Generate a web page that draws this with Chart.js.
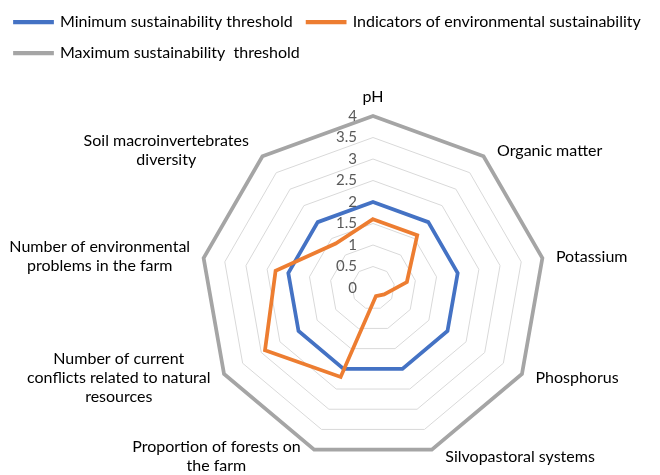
<!DOCTYPE html>
<html>
<head>
<meta charset="utf-8">
<script src="https://cdn.jsdelivr.net/npm/chart.js@4"></script>
<style>
  html, body { margin: 0; padding: 0; background: #fff; }
  #wrap { width: 660px; height: 475px; }
</style>
</head>
<body>
<div id="wrap"><canvas id="chart"></canvas></div>
<script>
// axis labels (multi-line as in the original)
const categories = [
  "pH",
  "Organic matter",
  "Potassium",
  "Phosphorus",
  "Silvopastoral systems",
  ["Proportion of forests on", "the farm"],
  ["Number of current", "conflicts related to natural", "resources"],
  ["Number of environmental", "problems in the farm"],
  ["Soil macroinvertebrates", "diversity"],
];

const minThreshold = [2, 2, 2, 2, 2, 2, 2, 2, 2];
const indicators = [1.6, 1.6, 0.8, 0.3, 0.2, 2.2, 2.9, 2.3, 1.35];
const maxThreshold = [4, 4, 4, 4, 4, 4, 4, 4, 4];

const tickValues = [0, 0.5, 1, 1.5, 2, 2.5, 3, 3.5, 4];

const FONT = "Lato, 'Open Sans', sans-serif";

// tick labels sit just left of the vertical axis, right aligned
const tickLabelPlugin = {
  id: "tickLabels",
  afterDatasetsDraw(chart) {
    const scale = chart.scales.r;
    const ctx = chart.ctx;
    ctx.save();
    ctx.font = "15px " + FONT;
    ctx.fillStyle = "#595959";
    ctx.textAlign = "right";
    ctx.textBaseline = "middle";
    tickValues.forEach((v) => {
      const d = scale.getDistanceFromCenterForValue(v);
      ctx.fillText(String(v), scale.xCenter - 16, scale.yCenter - d);
    });
    ctx.restore();
  },
};

// category labels, placed beside the spoke ends like Excel does
const pointLabelPlugin = {
  id: "pointLabelsExcel",
  afterDatasetsDraw(chart) {
    const scale = chart.scales.r;
    const ctx = chart.ctx;
    const lineH = 19;
    const gap = 13.5;
    ctx.save();
    ctx.font = "16px " + FONT;
    ctx.fillStyle = "#000";
    ctx.textBaseline = "middle";
    ctx.textAlign = "center";
    categories.forEach((lab, i) => {
      const lines = Array.isArray(lab) ? lab : [lab];
      const ang = scale.getIndexAngle(i);
      const deg = Math.round((ang * 180) / Math.PI) % 360;
      const p = scale.getPointPosition(i, scale.drawingArea);
      const w = Math.max(...lines.map((l) => ctx.measureText(l).width));
      const h = (lines.length - 1) * lineH;
      let mid = p.x;
      let cy = p.y - 7.5 * Math.cos(ang);
      if (deg === 0) cy = p.y - 19 - h / 2;
      else if (deg === 180) cy = p.y + 19 + h / 2;
      else if (deg < 180) mid = p.x + gap + w / 2;
      else mid = p.x - gap - w / 2;
      const top = cy - h / 2;
      lines.forEach((l, k) => ctx.fillText(l, mid, top + k * lineH));
    });
    ctx.restore();
  },
};

new Chart(document.getElementById("chart"), {
  type: "radar",
  data: {
    labels: categories,
    datasets: [
      {
        label: "Minimum sustainability threshold",
        data: minThreshold,
        borderColor: "#4472C4",
        backgroundColor: "#4472C4",
        borderWidth: 3.75,
        pointRadius: 0,
        fill: false,
        order: 2,
      },
      {
        label: "Indicators of environmental sustainability",
        data: indicators,
        borderColor: "#ED7D31",
        backgroundColor: "#ED7D31",
        borderWidth: 3.75,
        pointRadius: 0,
        fill: false,
        order: 1,
      },
      {
        label: "Maximum sustainability  threshold",
        data: maxThreshold,
        borderColor: "#A5A5A5",
        backgroundColor: "#A5A5A5",
        borderWidth: 3.75,
        pointRadius: 0,
        fill: false,
        order: 3,
      },
    ],
  },
  options: {
    responsive: true,
    maintainAspectRatio: false,
    animation: false,
    layout: { padding: { left: 0, right: 0, top: -1, bottom: 0 } },
    plugins: {
      legend: {
        position: "top",
        align: "start",
        labels: {
          boxWidth: 37,
          boxHeight: 0.5,
          padding: 15,
          color: "#000",
          font: { family: FONT, size: 16 },
          sort: (a, b) => a.datasetIndex - b.datasetIndex,
        },
      },
      tooltip: { enabled: false },
    },
    scales: {
      r: {
        min: 0,
        max: 4,
        angleLines: { display: false },
        grid: { color: "#D9D9D9", lineWidth: 1 },
        ticks: { stepSize: 0.5, display: false },
        pointLabels: { display: false },
        // plot area as in the original: centre and radius of the web
        afterFit(scale) {
          scale.xCenter = 373;
          scale.yCenter = 288;
          scale.drawingArea = 172;
        },
      },
    },
  },
  plugins: [tickLabelPlugin, pointLabelPlugin],
});
</script>
</body>
</html>
